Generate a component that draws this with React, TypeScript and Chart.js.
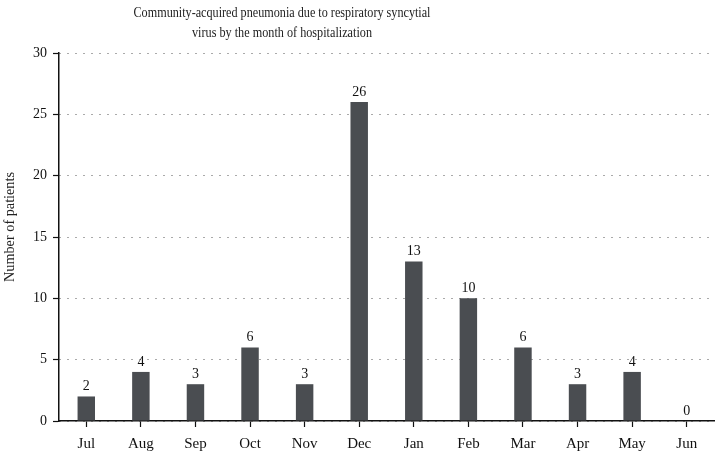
import React, { useEffect, useRef } from "react";
import { Chart, registerables } from "chart.js";

Chart.register(...registerables);

const months = ["Jul", "Aug", "Sep", "Oct", "Nov", "Dec", "Jan", "Feb", "Mar", "Apr", "May", "Jun"];
const patients = [2, 4, 3, 6, 3, 26, 13, 10, 6, 3, 4, 0];
const titleLines = [
  "Community-acquired pneumonia due to respiratory syncytial",
  "virus by the month of hospitalization",
];
const yAxisTitle = "Number of patients";

const FONT = "'Liberation Serif', 'Times New Roman', serif";

export default function App() {
  const ref = useRef<HTMLCanvasElement | null>(null);

  useEffect(() => {
    if (!ref.current) return;
    const titlePlugin = {
      id: "customTitle",
      afterDraw(chart: any) {
        const ctx = chart.ctx;
        ctx.save();
        ctx.fillStyle = "#222";
        ctx.font = `15px ${FONT}`;
        ctx.textAlign = "center";
        ctx.textBaseline = "alphabetic";
        ctx.fillText(titleLines[0], 282, 17, 297);
        ctx.fillText(titleLines[1], 282, 37, 180);
        // y-axis title
        ctx.translate(10, 227);
        ctx.rotate(-Math.PI / 2);
        ctx.textBaseline = "middle";
        ctx.fillText(yAxisTitle, 0, 0, 110);
        ctx.restore();
      },
    };
    const labelPlugin = {
      id: "barLabels",
      afterDatasetsDraw(chart: any) {
        const ctx = chart.ctx;
        const meta = chart.getDatasetMeta(0);
        ctx.save();
        ctx.fillStyle = "#111";
        ctx.font = `14px ${FONT}`;
        ctx.textAlign = "center";
        ctx.textBaseline = "bottom";
        meta.data.forEach((el: any, i: number) => {
          ctx.fillText(String(patients[i]), el.x, el.y - 3);
        });
        ctx.restore();
      },
    };
    const chart = new Chart(ref.current, {
      type: "bar",
      data: {
        labels: months,
        datasets: [
          {
            data: patients,
            backgroundColor: "#4a4d51",
            borderWidth: 0,
            categoryPercentage: 1,
            barPercentage: 0.32,
          },
        ],
      },
      options: {
        animation: false,
        responsive: false,
        layout: { padding: { left: 0, right: 1, top: 53, bottom: 0 } },
        plugins: {
          legend: { display: false },
          title: { display: false },
          tooltip: { enabled: false },
        },
        scales: {
          x: {
            afterFit(scale: any) {
              scale.height = 31;
            },
            grid: {
              display: true,
              drawOnChartArea: false,
              drawTicks: true,
              offset: false,
              tickLength: 6,
              tickColor: "#111",
              tickWidth: 1.2,
            },
            border: { display: true, color: "#111", width: 1.5 },
            ticks: {
              color: "#111",
              padding: 8,
              font: { family: FONT, size: 15 },
              maxRotation: 0,
            },
          },
          y: {
            min: 0,
            max: 30,
            afterFit(scale: any) {
              scale.width = 59;
            },
            grid: {
              color: "#555",
              lineWidth: 1,
              drawTicks: true,
              tickLength: 6,
              tickColor: "#111",
              tickWidth: 1.2,
              tickBorderDash: [],
            },
            border: { display: true, color: "#111", width: 1.5, dash: [1, 7] },
            ticks: {
              stepSize: 5,
              color: "#111",
              padding: 6,
              font: { family: FONT, size: 14 },
            },
            title: { display: false },
          },
        },
      },
      plugins: [titlePlugin, labelPlugin],
    });
    return () => chart.destroy();
  }, []);

  return (
    <div style={{ position: "absolute", left: 0, top: 0, width: 715, height: 452, background: "#fff" }}>
      <canvas ref={ref} width={715} height={452} />
    </div>
  );
}
